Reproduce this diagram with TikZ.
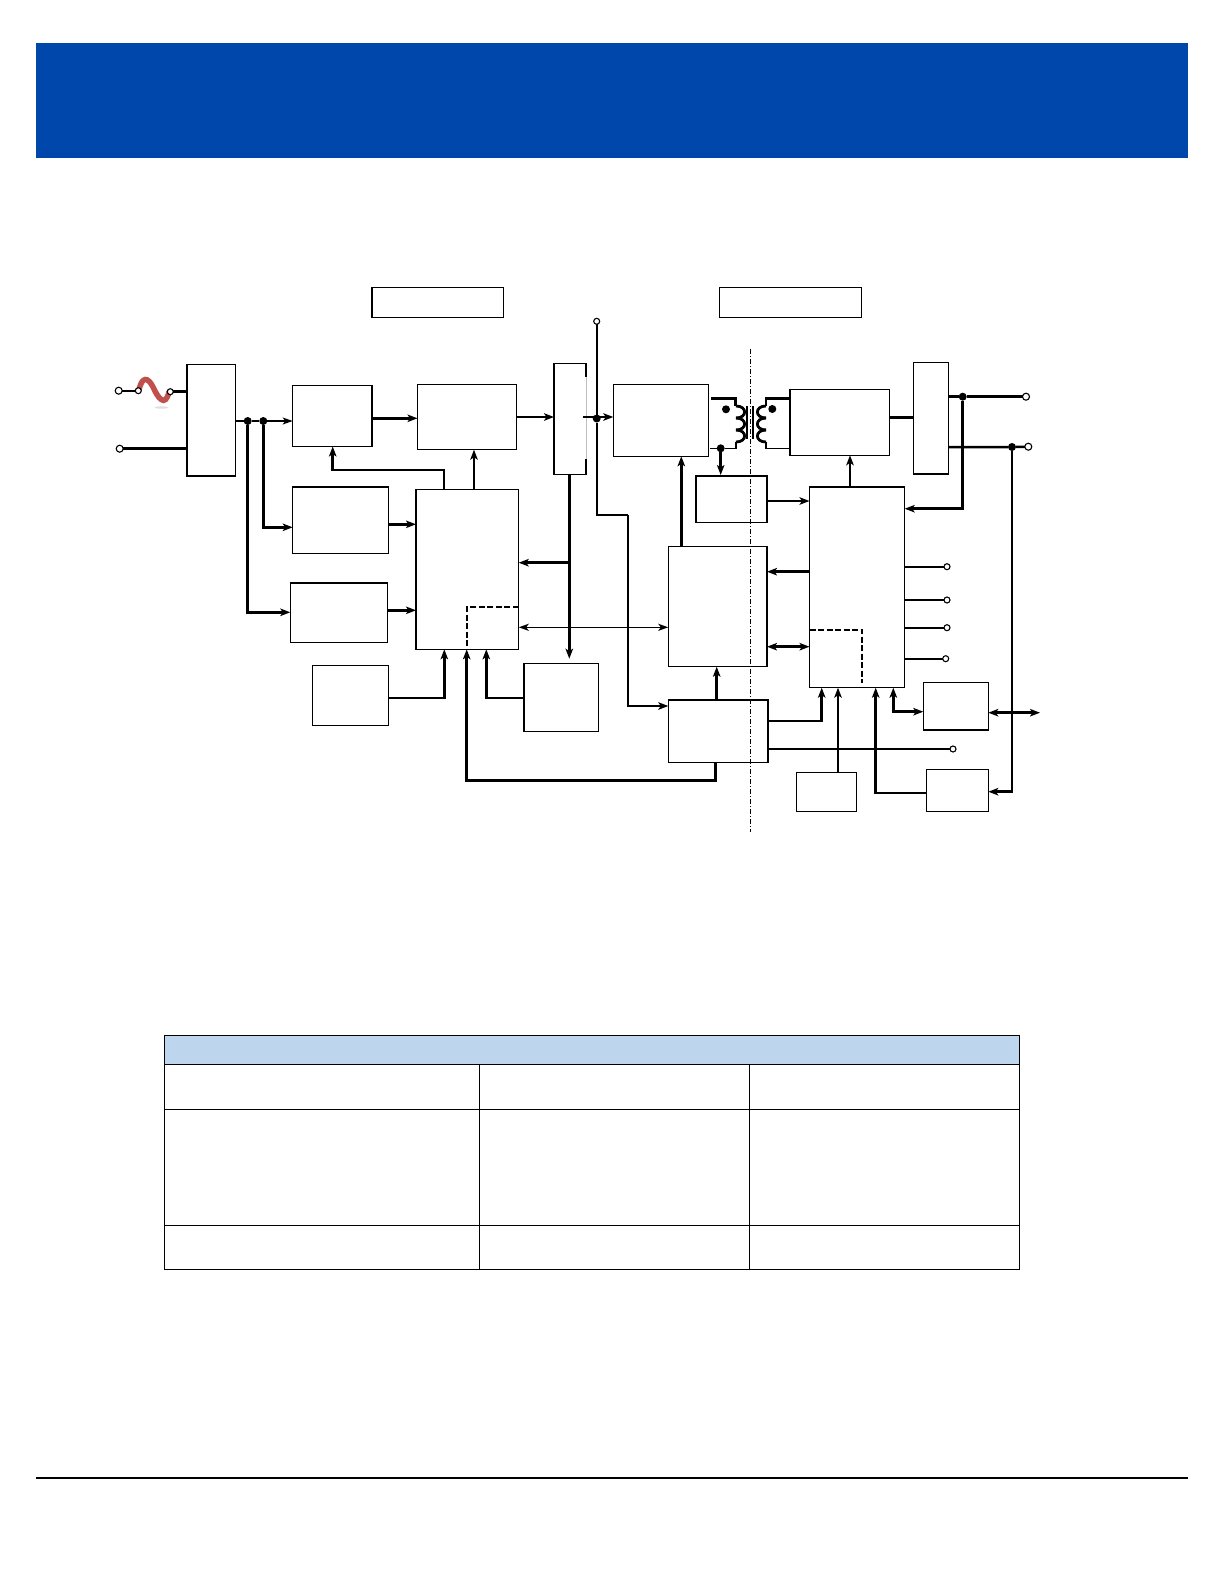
\documentclass[tikz,border=0pt]{standalone}
\usetikzlibrary{arrows.meta}
\definecolor{bannerblue}{HTML}{0047AB}
\definecolor{headblue}{HTML}{BDD6EE}
\definecolor{wavered}{HTML}{C0504D}
\tikzset{
  block/.style={draw,line width=1.2pt,inner sep=0pt,outer sep=0pt,fill=white},
  term/.style={draw,circle,fill=white,line width=1.1pt,inner sep=0pt,minimum size=7pt,outer sep=0pt},
  smallterm/.style={term,minimum size=6pt},
  dot/.style={circle,fill=black,inner sep=0pt,minimum size=8pt,outer sep=0pt},
  wire/.style={line width=1.6pt},
  heavy/.style={line width=2.5pt},
  arr/.style={wire,-{Stealth[length=10pt,width=7pt,inset=2.5pt]}},
  harr/.style={heavy,-{Stealth[length=10pt,width=7.5pt,inset=2.5pt]}},
  dbl/.style={wire,{Stealth[length=10pt,width=7pt,inset=2.5pt]}-{Stealth[length=10pt,width=7pt,inset=2.5pt]}},
  hdbl/.style={heavy,{Stealth[length=10pt,width=7.5pt,inset=2.5pt]}-{Stealth[length=10pt,width=7.5pt,inset=2.5pt]}},
  dashline/.style={line width=2pt,dash pattern=on 6pt off 2.5pt},
  isoline/.style={line width=1pt,dash pattern=on 5pt off 2pt on 1pt off 2pt}
}
\newcommand{\boxnode}[5]{\node[block,minimum width={(#4-#2)*1pt},minimum height={(#5-#3)*1pt}] (#1) at ({(#2+#4)/2},{(#3+#5)/2}) {};}
\begin{document}
\begin{tikzpicture}[x=1pt,y=-1pt]
  \useasboundingbox (0,0) rectangle (1225,1585);
  \fill[bannerblue] (36,43) rectangle (1187.7,157.7);
  \draw[line width=2pt] (36,1478) -- (1187.7,1478);

  \fill[headblue] (164.7,1035.3) rectangle (1019.3,1064.3);
  \draw[line width=1.2pt] (164.7,1035.3) rectangle (1019.3,1269.3);
  \foreach \y in {1064.3,1109.3,1225.3}
    \draw[line width=1.2pt] (164.7,\y) -- (1019.3,\y);
  \foreach \x in {479.3,749.3}
    \draw[line width=1.2pt] (\x,1064.3) -- (\x,1269.3);

  \fill[gray!25] (161.5,407.5) ellipse (7pt and 1.2pt);
  \draw[wavered,line width=5.5pt,line cap=round] (139,390) .. controls (142,376) and (148,377) .. (153,387) .. controls (158,398) and (165,408) .. (169,392);

  \boxnode{titlea}{372}{287.5}{503.5}{317.5}
  \boxnode{titleb}{719.3}{287.5}{861.7}{317.5}
  \boxnode{filter}{187}{364.7}{235.5}{476}
  \boxnode{rect}{292.7}{385.5}{372}{446.5}
  \boxnode{pfc}{417.5}{384.5}{516.5}{449.7}
  \boxnode{relay}{554}{363.7}{586}{474.7}
  \boxnode{sense}{292.7}{487}{388.7}{553.3}
  \boxnode{pfcctl}{416}{489.3}{518.7}{649.3}
  \boxnode{aux}{290.3}{583}{387.7}{642.7}
  \boxnode{ref}{312.3}{665.7}{388.7}{725.3}
  \boxnode{pwr}{524}{663.7}{598.3}{731.3}
  \boxnode{inv}{613.3}{384.3}{708.3}{456.3}
  \boxnode{sync}{790}{389.7}{889.3}{455.3}
  \boxnode{orfet}{913.3}{362.3}{948.7}{474}
  \boxnode{isense}{696}{476}{767}{522.3}
  \boxnode{pwm}{668.3}{546.7}{767}{666.7}
  \boxnode{supply}{668.3}{700}{768}{762.7}
  \boxnode{ctl}{809.5}{487}{904.7}{687.7}
  \boxnode{comm}{923.3}{682.7}{988.3}{730}
  \boxnode{temp}{796.7}{772.7}{856.3}{811.7}
  \boxnode{share}{926.7}{769.7}{988.3}{811.7}
  \draw[white,line width=1.4pt] (relay.east |- 0,377) -- (relay.east |- 0,459);
  \draw[gray!50,line width=.6pt] (relay.east |- 0,377) -- (relay.east |- 0,459);

  \node[term] (tina) at (118.7,390.7) {};
  \node[smallterm] (tsw) at (138.3,390.7) {};
  \node[smallterm] (tsx) at (170.3,391.7) {};
  \node[term] (tinb) at (119.7,448.7) {};
  \node[smallterm] (ttop) at (596.7,321.3) {};
  \node[term] (touta) at (1026,396.7) {};
  \node[term] (toutb) at (1028.3,446.7) {};
  \node[smallterm] (tvo) at (953,749) {};
  \foreach \n/\x/\y in {1/947/566.7,2/947/600,3/947/627.7,4/945.7/658.7} {
    \node[smallterm] (tq\n) at (\x,\y) {};
    \draw[wire] (ctl.east |- tq\n) -- (tq\n);
  }
  \node[dot] (ja) at (247.7,421) {};
  \node[dot] (jb) at (263.3,421) {};
  \node[dot] (jc) at (596.7,418.5) {};
  \node[dot] (jd) at (720.7,448.3) {};
  \node[dot] (je) at (962.7,396.7) {};
  \node[dot] (jf) at (1012,447) {};
  \node[dot] (pola) at (726,409.3) {};
  \node[dot] (polb) at (772.3,409) {};
  \coordinate (isotop) at (750.3,349.3);
  \coordinate (isobot) at (750.3,831.7);

  \draw[wire] (tina) -- (tsw);
  \draw[heavy] (tsx) -- (filter.west |- tsx);
  \draw[heavy] (tinb) -- (filter.west |- tinb);
  \draw[wire] (filter.east |- ja) -- (ja) -- (jb);
  \draw[arr] (jb) -- (rect.west |- jb);
  \draw[harr] (ja) |- (aux.west |- 0,612.3);
  \draw[harr] (jb) |- (sense.west |- 0,527.3);
  \draw[harr] (rect.east |- 0,418.3) -- (pfc.west |- 0,418.3);
  \draw[harr] (pfc.east |- 0,417) -- (relay.west |- 0,417);
  \draw[harr] ([xshift=-3pt]relay.east |- 0,417) -- (inv.west |- 0,417);
  \draw[wire] (ttop) -- (jc);
  \draw[wire] (jc) |- (628,515);
  \draw[harr] (628,515) |- (supply.west |- 0,706);
  \draw[harr] (pfcctl.north -| 444,0) -- (444,470) -| (rect.south -| 332.7,0);
  \draw[harr] (pfcctl.north -| 474,0) -- (pfc.south -| 474,0);
  \draw[harr] (sense.east |- 0,524.3) -- (pfcctl.west |- 0,524.3);
  \draw[harr] (aux.east |- 0,610.3) -- (pfcctl.west |- 0,610.3);
  \draw[harr,shorten >=5pt] (relay.south -| 569.3,0) -- (pwr.north -| 569.3,0);
  \draw[harr] (569.3,562.7) -- (pfcctl.east |- 0,562.7);
  \draw[dbl] (pfcctl.east |- 0,627.3) -- (pwm.west |- 0,627.3);
  \draw[dashline] (pfcctl.east |- 0,607) -- (466.7,607) -- (pfcctl.south -| 466.7,0);
  \draw[harr] (ref.east |- 0,698) -| (pfcctl.south -| 444.3,0);
  \draw[harr] (pwr.west |- 0,698) -| (pfcctl.south -| 486.3,0);
  \draw[harr] (supply.south -| 715.7,0) |- (466.7,780.5) -- (pfcctl.south -| 466.7,0);

  \draw[harr] (pwm.north -| 681.3,0) -- (inv.south -| 681.3,0);
  \draw[harr] (supply.north -| 716.7,0) -- (pwm.south -| 716.7,0);
  \draw[harr] (isense.east |- 0,501) -- (ctl.west |- 0,501);
  \draw[harr] (ctl.north -| 850,0) -- (sync.south -| 850,0);
  \draw[harr] (ctl.west |- 0,571.7) -- (pwm.east |- 0,571.7);
  \draw[hdbl] (pwm.east |- 0,646.7) -- (ctl.west |- 0,646.7);
  \draw[harr] (supply.east |- 0,721) -| (ctl.south -| 821.7,0);
  \draw[heavy] (supply.east |- tvo) -- (tvo);
  \draw[harr] (temp.north -| 838,0) -- (ctl.south -| 838,0);
  \draw[harr] (share.west |- 0,793) -| (ctl.south -| 875.7,0);
  \draw[hdbl] (ctl.south -| 893.3,0) |- (comm.west |- 0,711.7);
  \draw[hdbl] (comm.east |- 0,712.7) -- (1040,712.7);
  \draw[dashline] (ctl.west |- 0,630) -- (862.3,630) -- (862.3,683);

  \draw[heavy] (sync.east |- 0,417.7) -- (orfet.west |- 0,417.7);
  \draw[heavy] (orfet.east |- je) -- (je) -- (touta);
  \draw[heavy] (orfet.east |- jf) -- (jf) -- (toutb);
  \draw[harr] (je) |- (ctl.east |- 0,508.7);
  \draw[harr] (jf) |- (share.east |- 0,791.7);

  \draw[heavy] ([xshift=3pt]inv.east |- 0,398.7) -| (735.7,406);
  \draw[wire] ([xshift=2pt]inv.east |- jd) -- (jd) -- (735.7,448.3) -- (735.7,441.7);
  \draw[heavy] (sync.west |- 0,398.7) -| (766,406);
  \draw[wire] (sync.west |- 0,448.3) -| (766,441.7);
  \foreach \c in {406,418,430} {
    \draw[line width=2.8pt] (736,\c) .. controls (747.5,\c) and (747.5,\c+12) .. (736,\c+12);
    \draw[line width=2.8pt] (766,\c) .. controls (754.5,\c) and (754.5,\c+12) .. (766,\c+12);
  }
  \draw[harr,shorten >=1pt] (jd) -- (isense.north -| jd);
  \draw[line width=2.2pt] (747,406) -- (747,439);
  \draw[line width=2.2pt] (753,406) -- (753,439);
  \draw[isoline] (isotop) -- (isobot);
\end{tikzpicture}
\end{document}
